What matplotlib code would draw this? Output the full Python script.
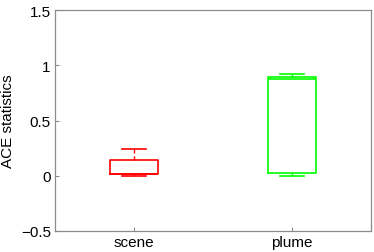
import matplotlib
matplotlib.use("Agg")
import matplotlib.pyplot as plt

# data
groups = ["scene", "plume"]
low_whisker = [0.0, 0.0]
q1 = [0.012, 0.027]
medians = [0.02, 0.88]
q3 = [0.14, 0.89]
high_whisker = [0.24, 0.925]
colors = ["#ff0000", "#00ff00"]

yticks = [-0.5, 0, 0.5, 1, 1.5]
ytick_labels = ["\u22120.5", "0", "0.5", "1", "1.5"]

plt.rcParams["font.family"] = ["Liberation Sans", "DejaVu Sans"]

fig = plt.figure(figsize=(3.74, 2.53), dpi=100)
ax = fig.add_axes([55 / 374, 21 / 253, 316 / 374, 221 / 253])

stats = []
for i, g in enumerate(groups):
    stats.append({"label": g, "whislo": low_whisker[i], "q1": q1[i],
                  "med": medians[i], "q3": q3[i], "whishi": high_whisker[i],
                  "fliers": []})

for i, s in enumerate(stats):
    c = colors[i]
    ax.bxp([s], positions=[i + 1], widths=0.3, showfliers=False,
           boxprops=dict(color=c, linewidth=1.2),
           medianprops=dict(color=c, linewidth=1.2),
           whiskerprops=dict(color=c, linewidth=1.0, linestyle=(0, (3, 2))),
           capprops=dict(color=c, linewidth=1.2),
           capwidths=0.15)

ax.set_xlim(0.5, 2.5)
ax.set_ylim(-0.5, 1.5)
ax.set_xticks([1, 2])
ax.set_xticklabels(groups)
ax.set_yticks(yticks)
ax.set_yticklabels(ytick_labels)
ax.set_ylabel("ACE statistics", fontsize=11, labelpad=4)

for sp in ax.spines.values():
    sp.set_color("#8c8c8c")
    sp.set_linewidth(0.9)
ax.tick_params(direction="in", length=3, color="#8c8c8c", labelsize=11,
               top=False, right=False, pad=3)

fig.savefig("out.png", dpi=100)
